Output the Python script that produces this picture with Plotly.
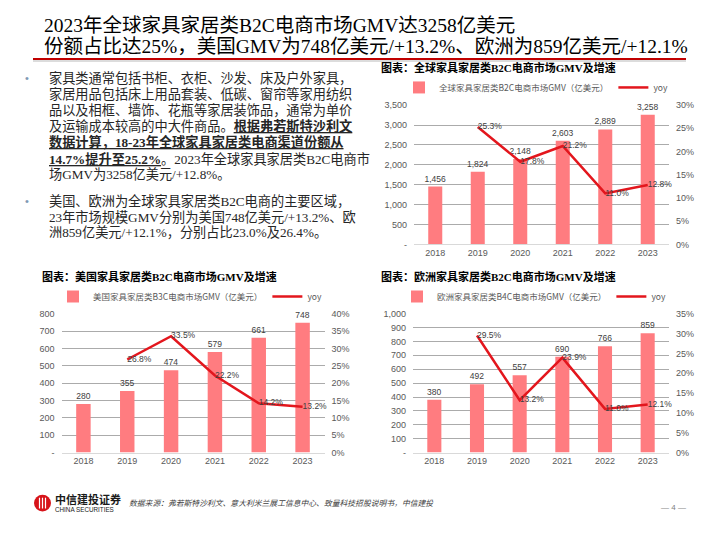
import plotly.graph_objects as go

# ---------------- data ----------------
years = ['2018', '2019', '2020', '2021', '2022', '2023']
yoy_years = ['2019', '2020', '2021', '2022', '2023']

global_gmv = [1456, 1824, 2148, 2603, 2889, 3258]
global_yoy = [25.3, 17.8, 21.2, 11.0, 12.8]
us_gmv = [280, 355, 474, 579, 661, 748]
us_yoy = [26.8, 33.5, 22.2, 14.2, 13.2]
eu_gmv = [380, 492, 557, 690, 766, 859]
eu_yoy = [29.5, 13.2, 23.9, 11.0, 12.1]

global_left_ticks = [0, 500, 1000, 1500, 2000, 2500, 3000, 3500]
global_right_ticks = [0, 5, 10, 15, 20, 25, 30]
us_left_ticks = [0, 100, 200, 300, 400, 500, 600, 700, 800]
us_right_ticks = [0, 5, 10, 15, 20, 25, 30, 35, 40]
eu_left_ticks = [0, 100, 200, 300, 400, 500, 600, 700, 800, 900, 1000]
eu_right_ticks = [0, 5, 10, 15, 20, 25, 30, 35]

global_bar_name = '全球家具家居类B2C电商市场GMV（亿美元）'
us_bar_name = '美国家具家居类B3C电商市场GMV（亿美元）'
eu_bar_name = '欧洲家具家居类B4C电商市场GMV（亿美元）'
line_name = 'yoy'

title_line1 = '2023年全球家具家居类B2C电商市场GMV达3258亿美元'
title_line2 = '份额占比达25%，美国GMV为748亿美元/+13.2%、欧洲为859亿美元/+12.1%'
chart_titles = ['图表：全球家具家居类B2C电商市场GMV及增速',
                '图表：美国家具家居类B2C电商市场GMV及增速',
                '图表：欧洲家具家居类B2C电商市场GMV及增速']

bullet1_lines = [
    '家具类通常包括书柜、衣柜、沙发、床及户外家具，',
    '家居用品包括床上用品套装、低碳、窗帘等家用纺织',
    '品以及相框、墙饰、花瓶等家居装饰品，通常为单价',
    '及运输成本较高的中大件商品。<b><u>根据弗若斯特沙利文</u></b>',
    '<b><u>数据计算，18-23年全球家具家居类电商渠道份额从</u></b>',
    '<b><u>14.7%提升至25.2%</u></b>。2023年全球家具家居类B2C电商市',
    '场GMV为3258亿美元/+12.8%。',
]
bullet2_lines = [
    '美国、欧洲为全球家具家居类B2C电商的主要区域，',
    '23年市场规模GMV分别为美国748亿美元/+13.2%、欧',
    '洲859亿美元/+12.1%，分别占比23.0%及26.4%。',
]
source_text = '数据来源：弗若斯特沙利文、意大利米兰展工信息中心、致量科技招股说明书，中信建投'

# ---------------- styling ----------------
W, H = 720, 540
BAR = '#FF7C80'
RED = '#E3161D'
GRID = '#ABABAB'
TICK = '#595959'
SANS = 'Liberation Sans, Arial, Noto Sans CJK SC'
SERIF = 'Liberation Serif, Noto Sans CJK SC'
CJK = 'Noto Sans CJK SC'


def px(x):
    return x / W


def py(y):
    return 1 - y / H


def fmt_num(v):
    return '-' if v == 0 else f'{v:,}'


def fmt_pct(v):
    return f'{v}%'


fig = go.Figure()

charts = [
    dict(gmv=global_gmv, yoy=global_yoy, lt=global_left_ticks, rt=global_right_ticks,
         bname=global_bar_name, x0=414, x1=669, top=102, bot=244,
         xa='x', ya='y', ya2='y2', leg='legend', legx=399, legy=84,
         tx=379, ty=64, title=chart_titles[0]),
    dict(gmv=us_gmv, yoy=us_yoy, lt=us_left_ticks, rt=us_right_ticks,
         bname=us_bar_name, x0=61.5, x1=324.5, top=314.5, bot=456,
         xa='x2', ya='y3', ya2='y4', leg='legend2', legx=53, legy=297,
         tx=40, ty=277, title=chart_titles[1]),
    dict(gmv=eu_gmv, yoy=eu_yoy, lt=eu_left_ticks, rt=eu_right_ticks,
         bname=eu_bar_name, x0=413, x1=669, top=314.5, bot=456,
         xa='x3', ya='y5', ya2='y6', leg='legend3', legx=397, legy=297,
         tx=379, ty=277, title=chart_titles[2]),
]

annotations = []
layout_axes = {}

for c in charts:
    fig.add_trace(go.Bar(
        x=years, y=c['gmv'], xaxis=c['xa'], yaxis=c['ya'], name=c['bname'],
        marker=dict(color=BAR, line=dict(width=0)), width=0.33,
        texttemplate='%{y:,}', textposition='outside', constraintext='none',
        textfont=dict(family=SANS, size=8.5, color='#404040'),
        cliponaxis=False, legend=c['leg'], hoverinfo='skip'))
    fig.add_trace(go.Scatter(
        x=yoy_years, y=c['yoy'], xaxis=c['xa'], yaxis=c['ya2'], name=line_name,
        mode='lines+text', line=dict(color=RED, width=2.5),
        texttemplate='%{y:.1f}%', textposition='middle right',
        textfont=dict(family=SANS, size=8.5, color='#404040'),
        cliponaxis=False, legend=c['leg'], hoverinfo='skip'))

    xk = 'xaxis' + c['xa'][1:]
    yk = 'yaxis' + c['ya'][1:]
    y2k = 'yaxis' + c['ya2'][1:]
    layout_axes[xk] = dict(
        domain=[px(c['x0']), px(c['x1'])], anchor=c['ya'], type='category',
        showline=True, linecolor='#D9D9D9', linewidth=1, ticks='',
        showgrid=False, tickfont=dict(family=SANS, size=9, color=TICK),
        fixedrange=True)
    layout_axes[yk] = dict(
        domain=[py(c['bot']), py(c['top'])], anchor=c['xa'],
        range=[0, c['lt'][-1]], tickvals=c['lt'],
        ticktext=[fmt_num(v) for v in c['lt']],
        showgrid=True, gridcolor=GRID, gridwidth=1.2, zeroline=False,
        ticks='', ticklabelstandoff=6,
        tickfont=dict(family=SANS, size=9, color=TICK), fixedrange=True)
    layout_axes[y2k] = dict(
        overlaying=c['ya'], side='right', anchor=c['xa'],
        range=[0, c['rt'][-1]], tickvals=c['rt'],
        ticktext=[fmt_pct(v) for v in c['rt']],
        showgrid=False, zeroline=False, ticks='', ticklabelstandoff=6,
        tickfont=dict(family=SANS, size=9, color=TICK), fixedrange=True)
    layout_axes[c['leg']] = dict(
        orientation='h', x=px(c['legx']), y=py(c['legy']),
        xanchor='left', yanchor='middle', bgcolor='rgba(0,0,0,0)',
        font=dict(family=CJK, size=8.5, color='#595959'),
        itemwidth=30, tracegroupgap=0)
    annotations.append(dict(
        text='<b>' + c['title'] + '</b>', x=px(c['tx']), y=py(c['ty']),
        xref='paper', yref='paper', xanchor='left', yanchor='middle',
        showarrow=False, font=dict(family=SERIF, size=11, color='#000000')))

# page title
annotations.append(dict(text=title_line1, x=px(42), y=py(21), xref='paper', yref='paper',
                        xanchor='left', yanchor='middle', showarrow=False,
                        font=dict(family=SERIF, size=19.5, color='#000000')))
annotations.append(dict(text=title_line2, x=px(42), y=py(42.5), xref='paper', yref='paper',
                        xanchor='left', yanchor='middle', showarrow=False,
                        font=dict(family=SERIF, size=19.5, color='#000000')))

# bullet text
body_font = dict(family=SERIF, size=13.2, color='#262626')
b1_y = [74, 90.5, 107, 123.5, 140, 156.5, 173]
b2_y = [200, 216, 232]
for t, yy in zip(bullet1_lines, b1_y):
    annotations.append(dict(text=t, x=px(47), y=py(yy), xref='paper', yref='paper',
                            xanchor='left', yanchor='middle', showarrow=False, font=body_font))
for t, yy in zip(bullet2_lines, b2_y):
    annotations.append(dict(text=t, x=px(47), y=py(yy), xref='paper', yref='paper',
                            xanchor='left', yanchor='middle', showarrow=False, font=body_font))
for yy in [74, 200]:
    annotations.append(dict(text='•', x=px(27), y=py(yy), xref='paper', yref='paper',
                            xanchor='center', yanchor='middle', showarrow=False,
                            font=dict(family=SANS, size=11, color='#7F99B5')))

# footer
annotations.append(dict(text='<b>中信建投证券</b>', x=px(53), y=py(503), xref='paper', yref='paper',
                        xanchor='left', yanchor='middle', showarrow=False,
                        font=dict(family=CJK, size=11, color='#1a1a1a')))
annotations.append(dict(text='CHINA SECURITIES', x=px(53), y=py(514), xref='paper', yref='paper',
                        xanchor='left', yanchor='middle', showarrow=False,
                        font=dict(family=SANS, size=6.3, color='#1a1a1a')))
annotations.append(dict(text='<i>' + source_text + '</i>', x=px(127), y=py(507), xref='paper',
                        yref='paper', xanchor='left', yanchor='middle', showarrow=False,
                        font=dict(family=CJK, size=7.8, color='#404040')))
annotations.append(dict(text='— 4 —', x=px(673), y=py(512), xref='paper', yref='paper',
                        xanchor='center', yanchor='middle', showarrow=False,
                        font=dict(family=SANS, size=8, color='#7F7F7F')))

shapes = [
    dict(type='line', xref='paper', yref='paper', x0=px(33), x1=px(686), y0=py(57), y1=py(57),
         line=dict(color='#D0D0D0', width=1.5)),
    dict(type='line', xref='paper', yref='paper', x0=px(33), x1=px(686), y0=py(55), y1=py(55),
         line=dict(color='#C00000', width=2)),
    dict(type='circle', xref='paper', yref='paper', x0=px(34), x1=px(51), y0=py(516), y1=py(499),
         fillcolor='#D7141A', line=dict(width=0)),
]
for lx in [39.5, 42.5, 45.5]:
    shapes.append(dict(type='line', xref='paper', yref='paper', x0=px(lx), x1=px(lx),
                       y0=py(513), y1=py(502), line=dict(color='#FFFFFF', width=1.2)))

fig.update_layout(
    width=W, height=H, margin=dict(l=0, r=0, t=0, b=0),
    paper_bgcolor='#FFFFFF', plot_bgcolor='#FFFFFF',
    showlegend=True, annotations=annotations, shapes=shapes,
    **layout_axes)

fig.write_html('out.html')
